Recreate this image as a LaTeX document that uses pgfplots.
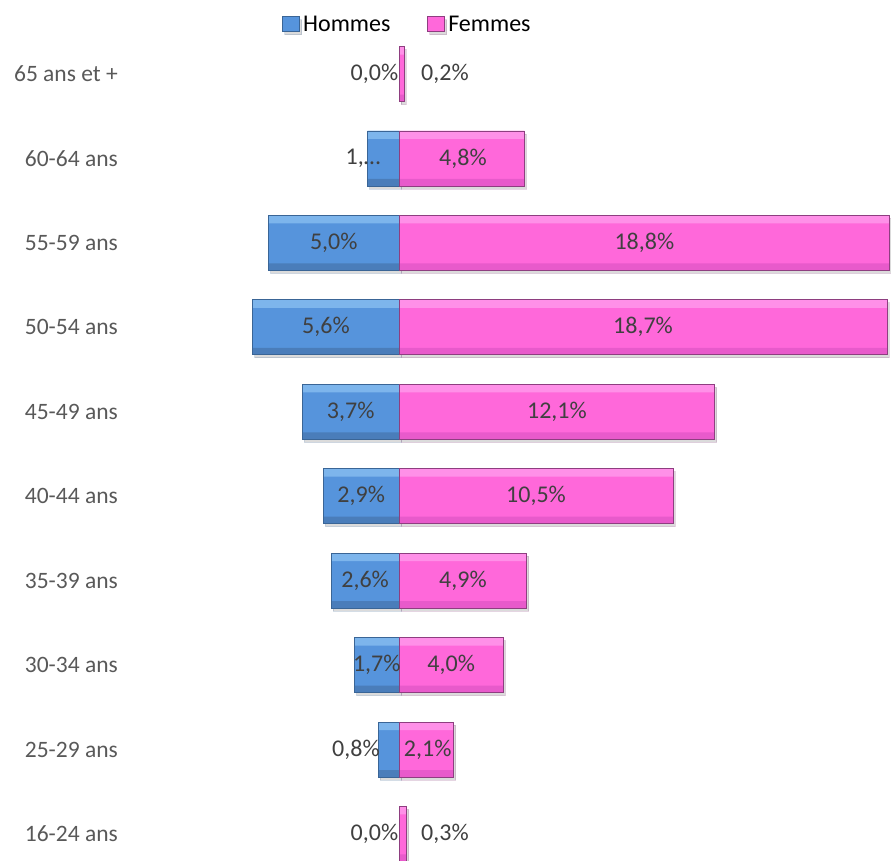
\documentclass[border=0pt]{standalone}
\usepackage{pgfplots}
\pgfplotsset{compat=1.18}
\usepackage{pgfplotstable}
\usepackage{fontspec}
\setmainfont{Carlito}
\usetikzlibrary{shadows}

\definecolor{hdark}{HTML}{4A7DBA}
\definecolor{hmid}{HTML}{5694DC}
\definecolor{hlight}{HTML}{7DB5EC}
\definecolor{hedge}{HTML}{3A6596}
\definecolor{fdark}{HTML}{E85ACB}
\definecolor{fmid}{HTML}{FF68DA}
\definecolor{flight}{HTML}{FF90E8}
\definecolor{fedge}{HTML}{8E3E80}
\definecolor{tickgray}{HTML}{595959}
\definecolor{labgray}{HTML}{404040}

\pgfplotsset{
  sqlegend/.style={legend image code/.code={\draw[##1] (0pt,-7.5pt) rectangle (17pt,7.5pt);}},
  pyrbar/.style={xbar, bar width=55pt, bar shift=0pt, line width=0.8pt, sqlegend},
  % bevel strips along the top and bottom of each bar
  topstrip/.style={xbar, forget plot, bar width=8pt, bar shift=23.5pt, draw=none},
  botstrip/.style={xbar, forget plot, bar width=7pt, bar shift=-24pt, draw=none},
  outline/.style={xbar, forget plot, bar width=55pt, bar shift=0pt, line width=0.8pt, fill=none},
}

% y: age group index; h, f: shares (men to the left); hx, fx: label positions
\pgfplotstableread[col sep=semicolon]{
y;h;f;hx;fx;hl;fl
9;-0.0;0.2;-0.94;1.76;0,0\%;0,2\%
8;-1.2;4.8;-1.38;2.45;1,…;4,8\%
7;-5.0;18.8;-2.5;9.4;5,0\%;18,8\%
6;-5.6;18.7;-2.8;9.35;5,6\%;18,7\%
5;-3.7;12.1;-1.85;6.05;3,7\%;12,1\%
4;-2.9;10.5;-1.45;5.25;2,9\%;10,5\%
3;-2.6;4.9;-1.3;2.45;2,6\%;4,9\%
2;-1.7;4.0;-0.85;2.0;1,7\%;4,0\%
1;-0.8;2.1;-1.65;1.1;0,8\%;2,1\%
0;-0.0;0.3;-0.94;1.76;0,0\%;0,3\%
}\agedata

\begin{document}
\begin{tikzpicture}
\useasboundingbox (0,0) rectangle (891pt,861pt);
\clip (0,0) rectangle (891pt,861pt);
\begin{axis}[
  at={(138pt,-15.2pt)}, anchor=south west,
  scale only axis,
  width=756.9pt, height=844.4pt,
  xmin=-10, xmax=19,
  ymin=-0.5, ymax=9.5,
  xtick=\empty,
  ytick={0,...,9},
  yticklabels={16-24 ans,25-29 ans,30-34 ans,35-39 ans,40-44 ans,45-49 ans,50-54 ans,55-59 ans,60-64 ans,65 ans et +},
  yticklabel style={anchor=east, inner sep=0pt, xshift=-20pt, text=tickgray, font=\fontsize{23.5}{28}\selectfont},
  axis line style={draw=none},
  major tick style={draw=none},
  legend columns=2,
  legend style={at={(0.3567,1.009)}, anchor=center, draw=none, fill=none,
    inner sep=0pt, font=\fontsize{24}{28}\selectfont,
    nodes={inner xsep=3pt, inner ysep=1pt},
    /tikz/every even column/.append style={column sep=34pt}},
  every node near coord/.append style={text=labgray, font=\fontsize{24}{28}\selectfont},
]
% men
\addplot[pyrbar, fill=hmid, draw=hedge,
  drop shadow={shadow xshift=2pt, shadow yshift=-3pt, opacity=0.2, fill=black!70}]
  table[x=h, y=y] {\agedata};
\addlegendentry{Hommes}
% women
\addplot[pyrbar, fill=fmid, draw=fedge,
  drop shadow={shadow xshift=2pt, shadow yshift=-3pt, opacity=0.2, fill=black!70}]
  table[x=f, y=y] {\agedata};
\addlegendentry{Femmes}
\addplot[topstrip, fill=hlight] table[x=h, y=y] {\agedata};
\addplot[botstrip, fill=hdark] table[x=h, y=y] {\agedata};
\addplot[topstrip, fill=flight] table[x=f, y=y] {\agedata};
\addplot[botstrip, fill=fdark] table[x=f, y=y] {\agedata};
\addplot[outline, draw=hedge] table[x=h, y=y] {\agedata};
\addplot[outline, draw=fedge] table[x=f, y=y] {\agedata};
% data labels
\addplot[only marks, mark=none, forget plot, nodes near coords, nodes near coords align=center,
  point meta=explicit symbolic] table[x=hx, y=y, meta=hl] {\agedata};
\addplot[only marks, mark=none, forget plot, nodes near coords, nodes near coords align=center,
  point meta=explicit symbolic] table[x=fx, y=y, meta=fl] {\agedata};
\end{axis}
\end{tikzpicture}
\end{document}
